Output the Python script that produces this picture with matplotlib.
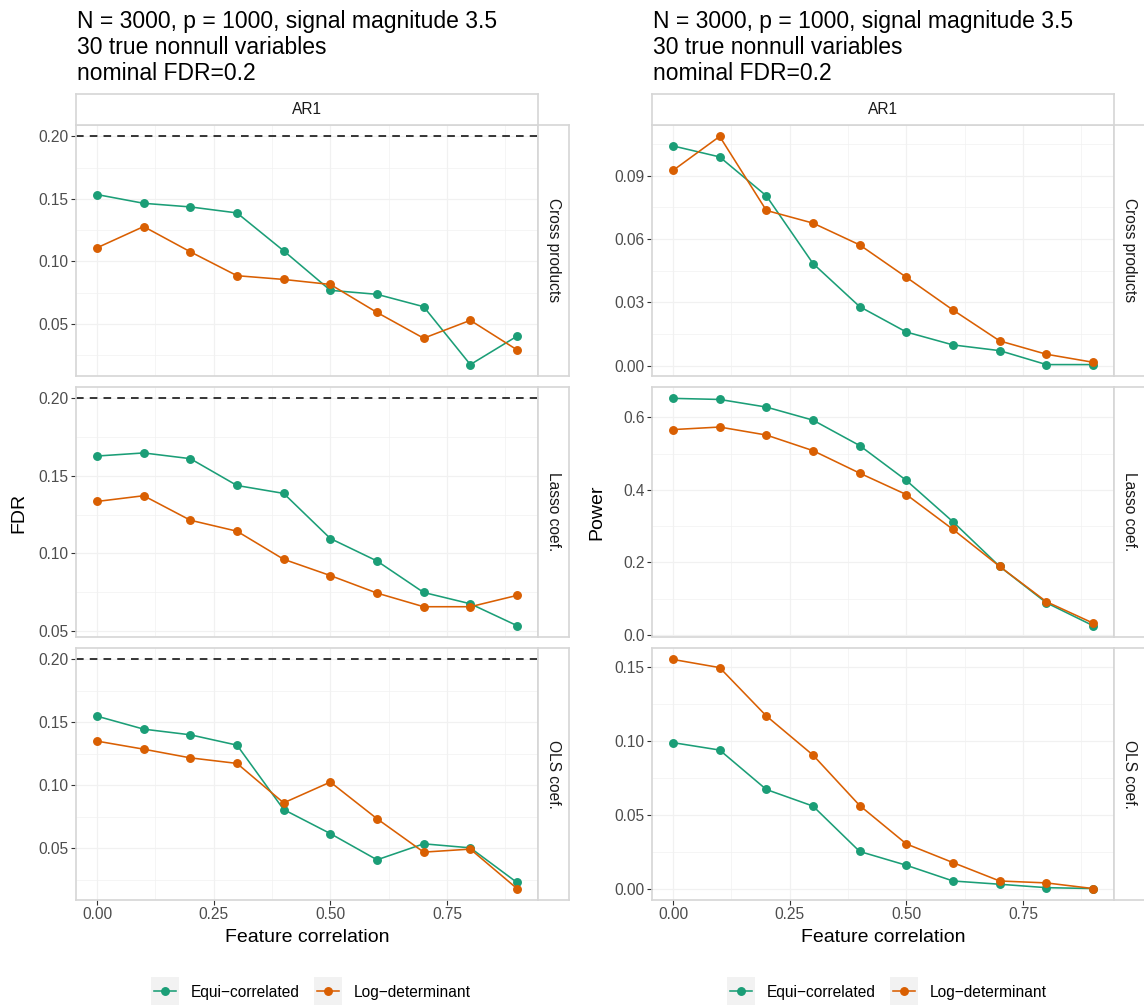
import matplotlib
matplotlib.use("Agg")
import matplotlib.pyplot as plt
from matplotlib.patches import Rectangle
from matplotlib.lines import Line2D

plt.rcParams["font.family"] = ["Liberation Sans", "DejaVu Sans"]

# data
rho = [0.0, 0.1, 0.2, 0.3, 0.4, 0.5, 0.6, 0.7, 0.8, 0.9]
methods = ["Equi\u2212correlated", "Log\u2212determinant"]
colors = ["#1B9E77", "#D95F02"]
rows = ["Cross products", "Lasso coef.", "OLS coef."]

fdr_cross_equi = [0.1535, 0.1465, 0.1436, 0.1388, 0.1085, 0.0769, 0.0737, 0.0638, 0.0175, 0.0402]
fdr_cross_logdet = [0.1109, 0.1279, 0.1077, 0.0886, 0.0856, 0.0816, 0.0592, 0.0386, 0.0529, 0.0293]
fdr_lasso_equi = [0.1628, 0.1648, 0.1611, 0.1438, 0.1387, 0.1096, 0.0951, 0.0748, 0.0675, 0.0534]
fdr_lasso_logdet = [0.1335, 0.1372, 0.1214, 0.1143, 0.0962, 0.0857, 0.0744, 0.0656, 0.0656, 0.0729]
fdr_ols_equi = [0.1550, 0.1447, 0.1402, 0.1320, 0.0809, 0.0618, 0.0410, 0.0537, 0.0505, 0.0230]
fdr_ols_logdet = [0.1352, 0.1288, 0.1219, 0.1175, 0.0862, 0.1027, 0.0736, 0.0471, 0.0495, 0.0182]

pow_cross_equi = [0.1040, 0.0988, 0.0804, 0.0484, 0.0280, 0.0160, 0.0099, 0.0072, 0.0006, 0.0006]
pow_cross_logdet = [0.0924, 0.1085, 0.0735, 0.0675, 0.0572, 0.0419, 0.0264, 0.0118, 0.0055, 0.0017]
pow_lasso_equi = [0.652, 0.649, 0.628, 0.592, 0.522, 0.426, 0.312, 0.189, 0.089, 0.026]
pow_lasso_logdet = [0.566, 0.573, 0.551, 0.508, 0.446, 0.387, 0.291, 0.189, 0.092, 0.033]
pow_ols_equi = [0.0989, 0.0939, 0.0673, 0.0561, 0.0255, 0.0162, 0.0056, 0.0034, 0.0011, 0.0005]
pow_ols_logdet = [0.1550, 0.1495, 0.1169, 0.0905, 0.0565, 0.0306, 0.0180, 0.0056, 0.0043, 0.0005]

fdr_data = [(fdr_cross_equi, fdr_cross_logdet), (fdr_lasso_equi, fdr_lasso_logdet), (fdr_ols_equi, fdr_ols_logdet)]
pow_data = [(pow_cross_equi, pow_cross_logdet), (pow_lasso_equi, pow_lasso_logdet), (pow_ols_equi, pow_ols_logdet)]

fdr_ticks = [[0.05, 0.10, 0.15, 0.20]] * 3
pow_ticks = [[0.00, 0.03, 0.06, 0.09], [0.0, 0.2, 0.4, 0.6], [0.00, 0.05, 0.10, 0.15]]
pow_fmt = ["{:.2f}", "{:.1f}", "{:.2f}"]
x_ticks = [0.0, 0.25, 0.5, 0.75]
nominal_fdr = 0.2
title_lines = ["N = 3000, p = 1000, signal magnitude 3.5", "30 true nonnull variables", "nominal FDR=0.2"]

W, H = 1144, 1005
fig = plt.figure(figsize=(W / 100, H / 100), dpi=100)
BORDER = "#D6D6D6"
GRID = "#F1F1F1"


def box(x0, y0, x1, y1):
    return [x0 / W, 1 - y1 / H, (x1 - x0) / W, (y1 - y0) / H]


rows_y = [(125, 376), (387, 637), (648, 900)]
cols_x = [(76, 538), (652, 1114)]

# overlay for free text / legend in pixel coordinates
ov = fig.add_axes([0, 0, 1, 1], zorder=-5)
ov.set_xlim(0, W)
ov.set_ylim(H, 0)
ov.axis("off")


def strip(x0, y0, x1, y1, label, rot):
    s = fig.add_axes(box(x0, y0, x1, y1))
    s.set_facecolor("white")
    s.set_xticks([])
    s.set_yticks([])
    for sp in s.spines.values():
        sp.set_color(BORDER)
        sp.set_linewidth(1.2)
    s.text(0.5, 0.5, label, transform=s.transAxes, ha="center", va="center",
           rotation=rot, fontsize=11.2, color="#1A1A1A")


for c, (x0, x1) in enumerate(cols_x):
    data = fdr_data if c == 0 else pow_data
    for r, (y0, y1) in enumerate(rows_y):
        ax = fig.add_axes(box(x0, y0, x1, y1))
        vals = list(data[r][0]) + list(data[r][1])
        if c == 0:
            vals.append(nominal_fdr)
        lo, hi = min(vals), max(vals)
        pad = 0.05 * (hi - lo)

        ax.set_xticks(x_ticks)
        ax.set_xticks([0.125, 0.375, 0.625, 0.875], minor=True)
        if c == 0:
            ticks = fdr_ticks[r]
            labels = ["{:.2f}".format(t) for t in ticks]
        else:
            ticks = pow_ticks[r]
            labels = [pow_fmt[r].format(t) for t in ticks]
        ax.set_yticks(ticks)
        ax.set_yticklabels(labels)
        step = ticks[1] - ticks[0]
        ax.set_yticks([t + step / 2 for t in [ticks[0] - step] + ticks], minor=True)
        ax.set_xlim(-0.045, 0.945)
        ax.set_ylim(lo - pad, hi + pad)

        ax.grid(which="major", color=GRID, lw=0.9)
        ax.grid(which="minor", color=GRID, lw=0.5)
        ax.set_axisbelow(True)
        ax.tick_params(which="minor", length=0)
        ax.tick_params(which="major", length=3.3, width=0.8, color="#333333",
                       labelsize=11.2, labelcolor="#4D4D4D", pad=2)
        if r < 2:
            ax.tick_params(axis="x", which="major", length=0, labelbottom=False)
        for sp in ax.spines.values():
            sp.set_color(BORDER)
            sp.set_linewidth(1.2)

        if c == 0:
            ax.axhline(nominal_fdr, color="black", lw=1.1, ls=(0, (5, 4)), zorder=1.5)
        for k in range(2):
            ax.plot(rho, data[r][k], color=colors[k], lw=1.15, marker="o",
                    markersize=5.4, zorder=3)

        strip(x1, y0, x1 + 31, y1, rows[r], -90)
    strip(x0, 94, x1, 125, "AR1", 0)

    # titles
    for i, line in enumerate(title_lines):
        ov.text(x0 + 1, 28 + 26 * i, line, fontsize=16.5, color="black",
                ha="left", va="baseline")
    # axis labels
    ov.text((x0 + x1) / 2, 937, "Feature correlation", fontsize=14,
            ha="center", va="center")
    ov.text(x0 - 57 if c == 0 else x0 - 55, (125 + 900) / 2, "FDR" if c == 0 else "Power",
            fontsize=14, rotation=90, ha="center", va="center")

# legends
leg_pos = [(151, 314), (727, 890)]
for kx in leg_pos:
    for k in range(2):
        bx = kx[k]
        ov.add_patch(Rectangle((bx, 977), 28, 28, facecolor="#F2F2F2", edgecolor="none"))
        ov.add_line(Line2D([bx + 3, bx + 25], [991, 991], color=colors[k], lw=1.15))
        ov.plot([bx + 14], [991], marker="o", color=colors[k], markersize=5.4)
        ov.text(bx + 40, 992, methods[k], fontsize=11.2, ha="left", va="center")

fig.savefig("out.png", dpi=100)
